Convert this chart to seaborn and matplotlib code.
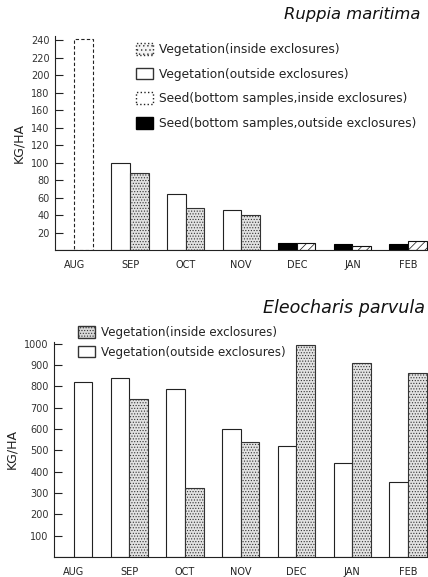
import matplotlib
matplotlib.use('Agg')
import matplotlib.pyplot as plt
import pandas as pd
import seaborn as sns
from matplotlib.patches import Patch

sns.set_theme(style="white")
plt.rcParams['font.family'] = ['DejaVu Sans']
plt.rcParams['hatch.linewidth'] = 0.5

# Data (KG/HA)
months = ['AUG', 'SEP', 'OCT', 'NOV', 'DEC', 'JAN', 'FEB']

# Ruppia maritima: first slot = outside exclosures, second slot = inside
ruppia_outside = [0, 100, 64, 46, 8, 7, 7]
ruppia_inside = [242, 88, 48, 40, 8, 5, 10]
ruppia_kind = ['veg', 'veg', 'veg', 'veg', 'seed', 'seed', 'seed']

# Eleocharis parvula vegetation
eleo_outside = [0, 840, 790, 600, 520, 440, 350]
eleo_inside = [820, 740, 325, 540, 995, 910, 865]

ruppia_ticks = list(range(20, 241, 20))
eleo_ticks = list(range(100, 1001, 100))

ruppia_labels = ['Vegetation(inside exclosures)',
                 'Vegetation(outside exclosures)',
                 'Seed(bottom samples,inside exclosures)',
                 'Seed(bottom samples,outside exclosures)']
eleo_labels = ['Vegetation(inside exclosures)',
               'Vegetation(outside exclosures)']


def long_form(outside, inside):
    return pd.DataFrame({
        'month': months * 2,
        'kg': outside + inside,
        'where': ['outside'] * len(months) + ['inside'] * len(months),
    })


STIPPLE = dict(facecolor='#e2e2e2', edgecolor='#333333', hatch='......')
WHITE = dict(facecolor='white', edgecolor='#222222', hatch=None)
HATCH = dict(facecolor='white', edgecolor='#111111', hatch='////')
BLACK = dict(facecolor='black', edgecolor='black', hatch=None)


def style_bar(bar, st, ls='-'):
    bar.set_facecolor(st['facecolor'])
    bar.set_edgecolor(st['edgecolor'])
    bar.set_hatch(st['hatch'])
    bar.set_linewidth(0.8)
    bar.set_linestyle(ls)


def dress_axis(ax, ticks, top):
    ax.set_ylim(0, top)
    ax.set_xlim(-0.35, 6.36)
    ax.set_yticks(ticks)
    ax.set_yticklabels([str(t) for t in ticks], fontsize=7, color='#333333')
    ax.tick_params(axis='y', direction='in', length=6, width=0.8, color='#222222', pad=4, left=True)
    ax.tick_params(axis='x', length=0, pad=7, labelsize=7, labelcolor='#222222')
    ax.set_xlabel('')
    ax.set_ylabel('KG/HA', fontsize=9, color='#222222', labelpad=4)
    for s in ['top', 'right']:
        ax.spines[s].set_visible(False)
    for s in ['left', 'bottom']:
        ax.spines[s].set_color('#222222')
        ax.spines[s].set_linewidth(0.8)


fig = plt.figure(figsize=(4.28, 5.77), dpi=100)
ax1 = fig.add_axes([55 / 428, 1 - 250 / 577, 1 - 55 / 428, 214 / 577])
ax2 = fig.add_axes([54 / 428, 1 - 557 / 577, 1 - 54 / 428, 215.4 / 577])

# Ruppia maritima
sns.barplot(data=long_form(ruppia_outside, ruppia_inside), x='month', y='kg',
            hue='where', hue_order=['outside', 'inside'], order=months,
            width=0.67, gap=0, ax=ax1, legend=False)
out_bars, in_bars = ax1.containers[0], ax1.containers[1]
for i, kind in enumerate(ruppia_kind):
    if kind == 'veg':
        style_bar(out_bars[i], WHITE)
        style_bar(in_bars[i], STIPPLE)
    else:
        style_bar(out_bars[i], BLACK)
        style_bar(in_bars[i], HATCH)
# the August bar is drawn open with a broken outline
style_bar(in_bars[0], WHITE, ls=(0, (3, 2)))
dress_axis(ax1, ruppia_ticks, 245)

leg1 = [Patch(facecolor='#f4f4f4', edgecolor='#333333', hatch='....', linestyle=':'),
        Patch(facecolor='white', edgecolor='#333333'),
        Patch(facecolor='white', edgecolor='#222222', linestyle=':'),
        Patch(facecolor='black', edgecolor='black')]
ax1.legend(leg1, ruppia_labels, loc='upper left', bbox_to_anchor=(136 / 428, 1 - 43 / 577),
           bbox_transform=fig.transFigure, frameon=False, fontsize=8.8,
           handlelength=1.4, handleheight=1.1, handletextpad=0.5, labelspacing=0.95,
           borderaxespad=0, borderpad=0, labelcolor='#222222')
fig.text(420 / 428, 1 - 15 / 577, 'Ruppia maritima', ha='right', va='center',
         fontsize=11.8, style='italic', color='#111111')

# Eleocharis parvula
sns.barplot(data=long_form(eleo_outside, eleo_inside), x='month', y='kg',
            hue='where', hue_order=['outside', 'inside'], order=months,
            width=0.67, gap=0, ax=ax2, legend=False)
out_bars, in_bars = ax2.containers[0], ax2.containers[1]
for i in range(len(months)):
    style_bar(out_bars[i], WHITE)
    style_bar(in_bars[i], STIPPLE)
style_bar(in_bars[0], WHITE)
dress_axis(ax2, eleo_ticks, 1010)

leg2 = [Patch(facecolor='#d8d8d8', edgecolor='#333333', hatch='......'),
        Patch(facecolor='white', edgecolor='#333333')]
ax2.legend(leg2, eleo_labels, loc='upper left', bbox_to_anchor=(78 / 428, 1 - 326 / 577),
           bbox_transform=fig.transFigure, frameon=False, fontsize=8.6,
           handlelength=1.4, handleheight=1.1, handletextpad=0.5, labelspacing=0.55,
           borderaxespad=0, borderpad=0, labelcolor='#222222')
fig.text(425 / 428, 1 - 308 / 577, 'Eleocharis parvula', ha='right', va='center',
         fontsize=12.6, style='italic', color='#111111')

fig.savefig('out.png', dpi=100)
